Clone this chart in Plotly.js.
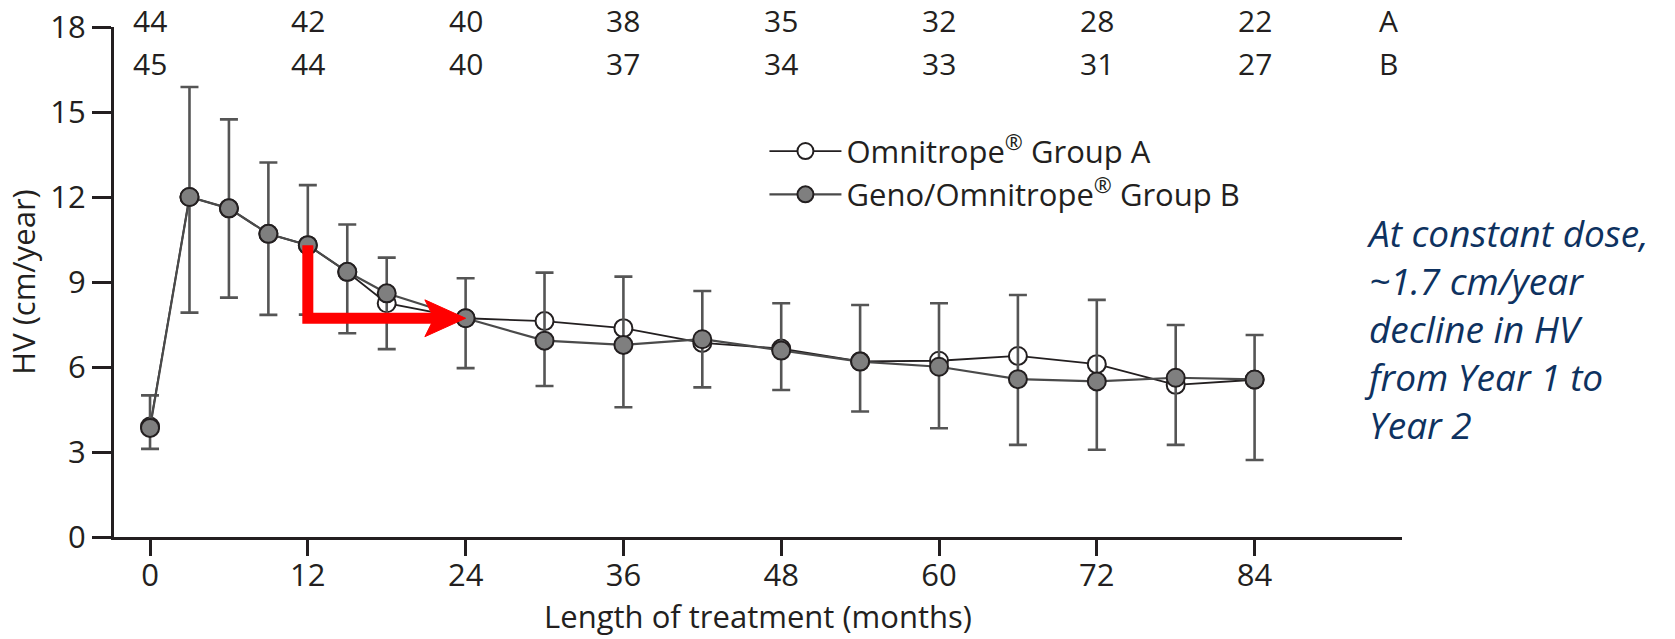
<!DOCTYPE html>
<html>
<head>
<meta charset="utf-8">
<script src="https://cdn.plot.ly/plotly-3.0.1.min.js"></script>
<style>html,body{margin:0;padding:0;background:#fff;}#chart{width:1675px;height:639px;}</style>
</head>
<body>
<div id="chart"></div>
<script>
// ---- data ----
const months = [0, 3, 6, 9, 12, 15, 18, 24, 30, 36, 42, 48, 54, 60, 66, 72, 78, 84];
const groupA = [3.9, 12.0, 11.6, 10.7, 10.3, 9.35, 8.25, 7.72, 7.62, 7.37, 6.85, 6.65, 6.2, 6.22, 6.39, 6.1, 5.37, 5.55];
const groupB = [3.85, 12.0, 11.6, 10.7, 10.3, 9.36, 8.6, 7.72, 6.93, 6.78, 6.98, 6.58, 6.19, 6.01, 5.57, 5.49, 5.62, 5.56];
const hvUpper = [5.0, 15.88, 14.74, 13.22, 12.42, 11.03, 9.86, 9.13, 9.33, 9.19, 8.68, 8.25, 8.19, 8.25, 8.54, 8.37, 7.48, 7.13];
const hvLower = [3.11, 7.92, 8.45, 7.84, 7.85, 7.19, 6.63, 5.96, 5.33, 4.58, 5.28, 5.19, 4.43, 3.84, 3.25, 3.08, 3.25, 2.72];
const tickMonths = [0, 12, 24, 36, 48, 60, 72, 84];
const nGroupA = [44, 42, 40, 38, 35, 32, 28, 22];
const nGroupB = [45, 44, 40, 37, 34, 33, 31, 27];
const yTicks = [0, 3, 6, 9, 12, 15, 18];
const nameA = 'Omnitrope<sup>®</sup> Group A';
const nameB = 'Geno/Omnitrope<sup>®</sup> Group B';
const noteText = 'At constant dose,<br>~1.7 cm/year<br>decline in HV<br>from Year 1 to<br>Year 2';

const ink = '#231f20';
const font = 'Open Sans, sans-serif';

const errPlus = hvUpper.map((u, i) => u - groupB[i]);
const errMinus = hvLower.map((l, i) => groupB[i] - l);

const traces = [
  {
    x: months, y: groupA, name: nameA,
    type: 'scatter', mode: 'lines+markers',
    line: {color: ink, width: 1.8},
    marker: {symbol: 'circle', size: 18, color: '#ffffff', line: {color: ink, width: 2}}
  },
  {
    x: months, y: groupB, name: nameB,
    type: 'scatter', mode: 'lines+markers',
    line: {color: '#4a4a4a', width: 2.2},
    marker: {symbol: 'circle', size: 18, color: '#7f7f7f', line: {color: ink, width: 2}},
    error_y: {type: 'data', symmetric: false, array: errPlus, arrayminus: errMinus,
              color: '#555555', thickness: 2.6, width: 9}
  }
];

const rowAy = 1.012, rowBy = 0.929;
const annotations = [];
tickMonths.forEach((m, i) => {
  annotations.push({x: m, y: rowAy, xref: 'x', yref: 'paper', text: String(nGroupA[i]), showarrow: false,
    xanchor: 'center', yanchor: 'middle', font: {family: font, size: 30, color: ink}});
  annotations.push({x: m, y: rowBy, xref: 'x', yref: 'paper', text: String(nGroupB[i]), showarrow: false,
    xanchor: 'center', yanchor: 'middle', font: {family: font, size: 30, color: ink}});
});
annotations.push({x: 94.2, y: rowAy, xref: 'x', yref: 'paper', text: 'A', showarrow: false,
  xanchor: 'center', yanchor: 'middle', font: {family: font, size: 30, color: ink}});
annotations.push({x: 94.2, y: rowBy, xref: 'x', yref: 'paper', text: 'B', showarrow: false,
  xanchor: 'center', yanchor: 'middle', font: {family: font, size: 30, color: ink}});
annotations.push({x: 0.969, y: 0.408, xref: 'paper', yref: 'paper', text: '<i>' + noteText + '</i>',
  showarrow: false, xanchor: 'left', yanchor: 'middle', align: 'left',
  font: {family: font, size: 37, color: '#0e3260'}});

// red arrow from Year 1 value down to Year 2 level, then to the 24-month point
const i12 = months.indexOf(12), i24 = months.indexOf(24);
const arrowX0 = months[i12], arrowTop = groupB[i12], arrowY = groupB[i24], tipX = months[i24];
const shapes = [
  {type: 'path', xref: 'x', yref: 'y',
   path: `M${arrowX0},${arrowTop} L${arrowX0},${arrowY} L${tipX - 2.2},${arrowY}`,
   line: {color: '#ff0000', width: 11}},
  {type: 'path', xref: 'x', yref: 'y',
   path: `M${tipX},${arrowY} L${tipX - 3.1},${arrowY + 0.65} L${tipX - 2.4},${arrowY} L${tipX - 3.1},${arrowY - 0.65} Z`,
   fillcolor: '#ff0000', line: {color: '#ff0000', width: 1}}
];

const layout = {
  width: 1675, height: 639,
  margin: {l: 114, r: 273, t: 27, b: 102, pad: 0},
  paper_bgcolor: '#ffffff', plot_bgcolor: '#ffffff',
  font: {family: font, size: 31, color: ink},
  showlegend: true,
  legend: {x: 0.505, y: 0.809, xanchor: 'left', yanchor: 'top', bgcolor: 'rgba(0,0,0,0)',
           font: {family: font, size: 31, color: ink}, itemwidth: 72},
  xaxis: {
    range: [-2.74, 95.21], tickvals: tickMonths, ticktext: tickMonths.map(String),
    ticks: 'outside', ticklen: 16, tickwidth: 3, tickcolor: ink, ticklabelstandoff: -7,
    showline: true, linewidth: 3, linecolor: ink, showgrid: false, zeroline: false,
    tickfont: {family: font, size: 31, color: ink},
    title: {text: 'Length of treatment (months)', font: {family: font, size: 31, color: ink}, standoff: 4}
  },
  yaxis: {
    range: [0, 18], tickvals: yTicks, ticktext: yTicks.map(String),
    ticks: 'outside', ticklen: 19, tickwidth: 3, tickcolor: ink,
    showline: true, linewidth: 3, linecolor: ink, showgrid: false, zeroline: false,
    tickfont: {family: font, size: 31, color: ink},
    title: {text: 'HV (cm/year)', font: {family: font, size: 31, color: ink}, standoff: 6}
  },
  annotations: annotations,
  shapes: shapes
};

Plotly.newPlot('chart', traces, layout, {staticPlot: true, displayModeBar: false});
</script>
</body>
</html>
